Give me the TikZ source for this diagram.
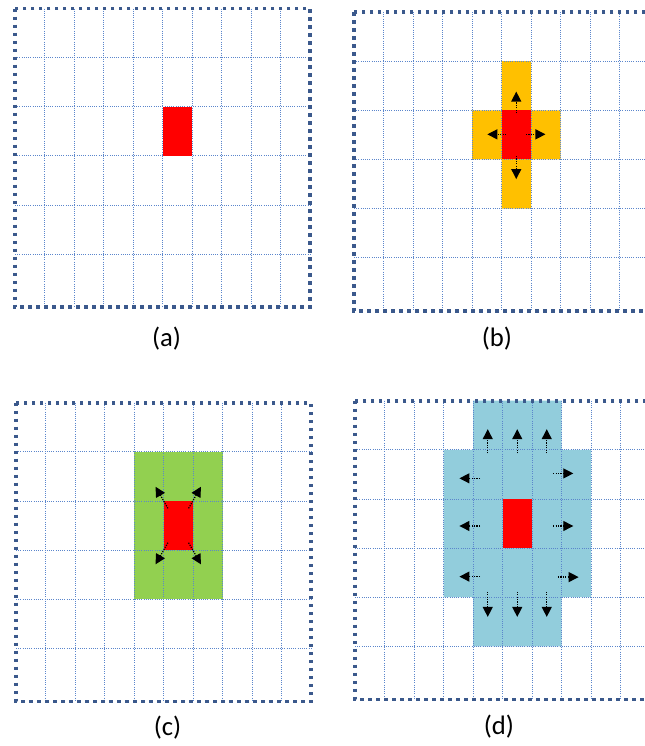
\documentclass[tikz,border=0pt]{standalone}
\usepackage{fontspec}
\setmainfont{Carlito}
\usetikzlibrary{arrows.meta}
\definecolor{bordbleu}{RGB}{59,89,140}
\definecolor{quadbleu}{RGB}{91,134,204}
\definecolor{jaune}{RGB}{255,192,0}
\definecolor{vert}{RGB}{146,208,80}
\definecolor{bleuclair}{RGB}{146,205,220}
\definecolor{rouge}{RGB}{255,0,0}
\tikzset{
  bord/.style={bordbleu,line width=2.8pt,dash pattern=on 2.7pt off 3.3pt},
  grille/.style={quadbleu,line width=0.65pt,dash pattern=on 0.65pt off 1pt},
  fleche/.style={-{Triangle[length=7.5pt,width=7.5pt]},line width=0.9pt,dash pattern=on 0.9pt off 0.9pt},
  panneau/.style={x=22.125pt,y=-36.85pt},
  legende/.style={font=\fontsize{20}{24}\selectfont},
}
\newcommand{\quadrillage}{%
  \foreach \x in {1,...,9}
  \draw[grille] (\x,0)--(\x,6.08);
  \foreach \y in {1,...,5}
  \draw[grille] (0,\y)--(10,\y);
  \draw[bord] (0,0) rectangle (10,6.08);
}

\begin{document}
\begin{tikzpicture}[x=0.75pt,y=-0.75pt]
  \useasboundingbox (0,0) rectangle (645,746);

  % (a) cellule de depart
  \begin{scope}[shift={(15,8.5)},panneau]
    \quadrillage
    \fill[rouge] (5,2) rectangle (6,3);
  \end{scope}
  \node[legende] (lbla) at (166.5,339) {(a)};

  % (b) 4 voisins
  \begin{scope}[shift={(354,12)},panneau]
    \fill[jaune] (5,1)--(6,1)--(6,2)--(7,2)--(7,3)--(6,3)--(6,4)--(5,4)--(5,3)--(4,3)--(4,2)--(5,2)--cycle;
    \quadrillage
    \fill[rouge] (5,2) rectangle (6,3);
    \draw[fleche] (5.5,2.06)--(5.5,1.62);
    \draw[fleche] (5.5,2.93)--(5.5,3.40);
    \draw[fleche] (5.16,2.49)--(4.52,2.49);
    \draw[fleche] (5.83,2.49)--(6.49,2.49);
  \end{scope}
  \node[legende] (lblb) at (497,339) {(b)};

  % (c) voisins en diagonale
  \begin{scope}[shift={(16,402.7)},panneau]
    \fill[vert] (4,1) rectangle (7,4);
    \quadrillage
    \fill[rouge] (5,2) rectangle (6,3);
    \draw[fleche] (5.15,2.15)--(4.73,1.71);
    \draw[fleche] (5.85,2.15)--(6.27,1.71);
    \draw[fleche] (5.15,2.85)--(4.73,3.29);
    \draw[fleche] (5.85,2.85)--(6.27,3.29);
  \end{scope}
  \node[legende] (lblc) at (167.5,727.5) {(c)};

  % (d) propagation
  \begin{scope}[shift={(355,400.7)},panneau]
    \fill[bleuclair] (4,0)--(7,0)--(7,1)--(8,1)--(8,4)--(7,4)--(7,5)--(4,5)--(4,4)--(3,4)--(3,1)--(4,1)--cycle;
    \quadrillage
    \fill[rouge] (5,2) rectangle (6,3);
    \foreach \x in {4.5,5.5,6.5}{
      \draw[fleche] (\x,1.07)--(\x,0.58);
      \draw[fleche] (\x,3.89)--(\x,4.40);
    }
    \foreach \y in {1.58,2.55,3.58}
    \draw[fleche] (4.24,\y)--(3.54,\y);
    \draw[fleche] (6.72,1.48)--(7.40,1.48);
    \draw[fleche] (6.72,2.55)--(7.40,2.55);
    \draw[fleche] (6.88,3.59)--(7.58,3.59);
  \end{scope}
  \node[legende] (lbld) at (499,727) {(d)};
\end{tikzpicture}
\end{document}
